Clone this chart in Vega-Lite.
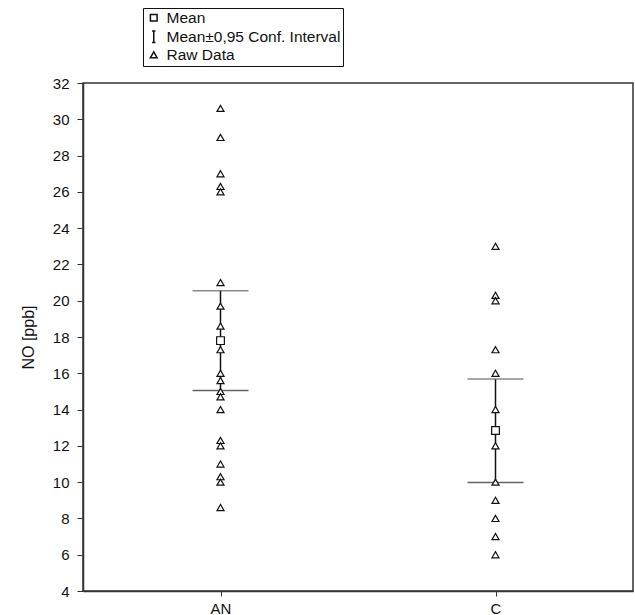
{
  "$schema": "https://vega.github.io/schema/vega-lite/v6.json",
  "width": 550,
  "height": 508,
  "autosize": "none",
  "padding": {"left": 83, "top": 83, "right": 2, "bottom": 24},
  "background": "white",
  "config": {
    "font": "Liberation Sans",
    "view": {"stroke": "#333", "strokeWidth": 1.5},
    "axis": {
      "domainColor": "#333",
      "domainWidth": 1.5,
      "tickColor": "#333",
      "labelColor": "#111",
      "titleColor": "#111",
      "labelFont": "Liberation Sans",
      "titleFont": "Liberation Sans",
      "labelFontSize": 15,
      "titleFontSize": 16,
      "titleFontWeight": "normal",
      "grid": false
    }
  },
  "datasets": {
    "raw": [
      {"group": "AN", "value": 30.6, "series": "Raw Data"},
      {"group": "AN", "value": 29.0, "series": "Raw Data"},
      {"group": "AN", "value": 27.0, "series": "Raw Data"},
      {"group": "AN", "value": 26.3, "series": "Raw Data"},
      {"group": "AN", "value": 26.0, "series": "Raw Data"},
      {"group": "AN", "value": 21.0, "series": "Raw Data"},
      {"group": "AN", "value": 19.7, "series": "Raw Data"},
      {"group": "AN", "value": 18.6, "series": "Raw Data"},
      {"group": "AN", "value": 17.3, "series": "Raw Data"},
      {"group": "AN", "value": 16.0, "series": "Raw Data"},
      {"group": "AN", "value": 15.6, "series": "Raw Data"},
      {"group": "AN", "value": 15.0, "series": "Raw Data"},
      {"group": "AN", "value": 14.7, "series": "Raw Data"},
      {"group": "AN", "value": 14.0, "series": "Raw Data"},
      {"group": "AN", "value": 12.3, "series": "Raw Data"},
      {"group": "AN", "value": 12.0, "series": "Raw Data"},
      {"group": "AN", "value": 11.0, "series": "Raw Data"},
      {"group": "AN", "value": 10.3, "series": "Raw Data"},
      {"group": "AN", "value": 10.0, "series": "Raw Data"},
      {"group": "AN", "value": 8.6, "series": "Raw Data"},
      {"group": "C", "value": 23.0, "series": "Raw Data"},
      {"group": "C", "value": 20.3, "series": "Raw Data"},
      {"group": "C", "value": 20.0, "series": "Raw Data"},
      {"group": "C", "value": 17.3, "series": "Raw Data"},
      {"group": "C", "value": 16.0, "series": "Raw Data"},
      {"group": "C", "value": 14.0, "series": "Raw Data"},
      {"group": "C", "value": 12.0, "series": "Raw Data"},
      {"group": "C", "value": 10.0, "series": "Raw Data"},
      {"group": "C", "value": 9.0, "series": "Raw Data"},
      {"group": "C", "value": 8.0, "series": "Raw Data"},
      {"group": "C", "value": 7.0, "series": "Raw Data"},
      {"group": "C", "value": 6.0, "series": "Raw Data"}
    ],
    "stats": [
      {"group": "AN", "mean": 17.8, "lower": 15.05, "upper": 20.55, "series": "Mean"},
      {"group": "C", "mean": 12.85, "lower": 9.98, "upper": 15.68, "series": "Mean"}
    ]
  },
  "layer": [
    {
      "data": {"name": "stats"},
      "mark": {"type": "rule", "color": "#111", "strokeWidth": 1.5},
      "encoding": {
        "x": {"field": "group", "type": "nominal", "scale": {"type": "point", "padding": 0.5}, "axis": {"title": null, "labelAngle": 0, "tickSize": 5, "labelPadding": 5}},
        "y": {
          "field": "lower",
          "type": "quantitative",
          "scale": {"domain": [4, 32], "nice": false, "zero": false},
          "axis": {"title": "NO [ppb]", "values": [4, 6, 8, 10, 12, 14, 16, 18, 20, 22, 24, 26, 28, 30, 32], "labelOverlap": false, "tickSize": 6, "labelPadding": 8, "titlePadding": 16}
        },
        "y2": {"field": "upper"}
      }
    },
    {
      "data": {"name": "stats"},
      "mark": {"type": "tick", "color": "#222", "size": 56, "thickness": 1.5},
      "encoding": {
        "x": {"field": "group", "type": "nominal"},
        "y": {"field": "lower", "type": "quantitative", "axis": {"title": "NO [ppb]", "values": [4, 6, 8, 10, 12, 14, 16, 18, 20, 22, 24, 26, 28, 30, 32], "labelOverlap": false, "tickSize": 6, "labelPadding": 8, "titlePadding": 16}}
      }
    },
    {
      "data": {"name": "stats"},
      "mark": {"type": "tick", "color": "#555", "size": 56, "thickness": 1.5},
      "encoding": {
        "x": {"field": "group", "type": "nominal"},
        "y": {"field": "upper", "type": "quantitative", "axis": {"title": "NO [ppb]", "values": [4, 6, 8, 10, 12, 14, 16, 18, 20, 22, 24, 26, 28, 30, 32], "labelOverlap": false, "tickSize": 6, "labelPadding": 8, "titlePadding": 16}}
      }
    },
    {
      "data": {"name": "raw"},
      "mark": {"type": "point", "filled": false, "fill": "white", "fillOpacity": 1, "stroke": "#111", "strokeWidth": 1.2, "size": 50, "opacity": 1},
      "encoding": {
        "x": {"field": "group", "type": "nominal"},
        "y": {"field": "value", "type": "quantitative", "axis": {"title": "NO [ppb]", "values": [4, 6, 8, 10, 12, 14, 16, 18, 20, 22, 24, 26, 28, 30, 32], "labelOverlap": false, "tickSize": 6, "labelPadding": 8, "titlePadding": 16}},
        "shape": {
          "field": "series",
          "type": "nominal",
          "scale": {
            "domain": ["Mean", "Mean±0,95 Conf. Interval", "Raw Data"],
            "range": ["square", "M-0.5,-1.7H0.5M0,-1.7V1.7M-0.5,1.7H0.5", "triangle-up"]
          },
          "legend": {
            "title": null,
            "orient": "none",
            "legendX": 60,
            "legendY": -75,
            "strokeColor": "#111",
            "fillColor": "white",
            "padding": 2,
            "labelFontSize": 15.5,
            "labelFont": "Liberation Sans",
            "labelColor": "#111",
            "labelLimit": 400,
            "symbolSize": 45,
            "rowPadding": 1,
            "labelOffset": 5,
            "symbolOffset": 1,
            "encode": {
              "symbols": {
                "update": {
                  "stroke": {"value": "#111"},
                  "strokeWidth": {"value": 1.2},
                  "fill": {"value": "white"},
                  "opacity": {"value": 1},
                  "fillOpacity": {"value": 1},
                  "strokeOpacity": {"value": 1}
                }
              }
            }
          }
        }
      }
    },
    {
      "data": {"name": "stats"},
      "mark": {"type": "point", "filled": false, "fill": "white", "fillOpacity": 1, "stroke": "#111", "strokeWidth": 1.2, "size": 60, "opacity": 1},
      "encoding": {
        "x": {"field": "group", "type": "nominal"},
        "y": {"field": "mean", "type": "quantitative", "axis": {"title": "NO [ppb]", "values": [4, 6, 8, 10, 12, 14, 16, 18, 20, 22, 24, 26, 28, 30, 32], "labelOverlap": false, "tickSize": 6, "labelPadding": 8, "titlePadding": 16}},
        "shape": {"field": "series", "type": "nominal"}
      }
    }
  ]
}
